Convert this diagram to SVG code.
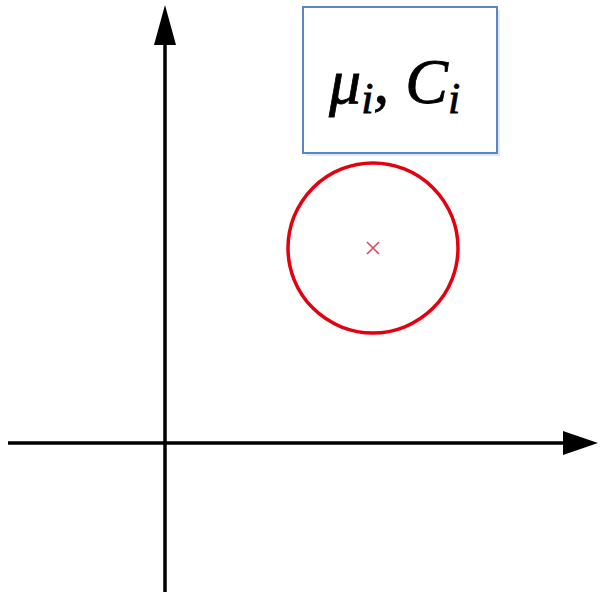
<svg xmlns="http://www.w3.org/2000/svg" width="602" height="601" viewBox="0 0 602 601">
<style>
.axis{stroke:#000;stroke-width:3.5;fill:none}
.head{fill:#000}
.lbl{font-family:"Liberation Serif","DejaVu Serif",serif;font-style:italic;fill:#000;stroke:#000;stroke-width:0.8}
</style>
<rect width="602" height="601" fill="#fff"/>
<g id="connectors">
<line class="axis" x1="165" y1="592" x2="165" y2="40"/>
<path class="head" d="M165,5 L176,45 L154,45 Z"/>
<line class="axis" x1="8" y1="443" x2="565" y2="443"/>
<path class="head" d="M598,443 L563,431 L563,455 Z"/>
</g>
<g id="label-box">
<rect x="306" y="10" width="194" height="146" fill="#cfd8e6" opacity="0.6"/>
<rect x="303" y="7" width="194" height="146" fill="#fff" stroke="#5b86c4" stroke-width="2"/>
<text class="lbl" x="329" y="103" font-size="64">μ<tspan font-size="44" dy="10">i</tspan><tspan dy="-10">, C</tspan><tspan font-size="44" dy="10">i</tspan></text>
</g>
<g id="cluster">
<circle cx="373" cy="248" r="85" fill="none" stroke="#e3000f" stroke-width="3.5"/>
<path d="M367,242 L379,254 M379,242 L367,254" stroke="#e0405a" stroke-width="1.5"/>
</g>
</svg>
